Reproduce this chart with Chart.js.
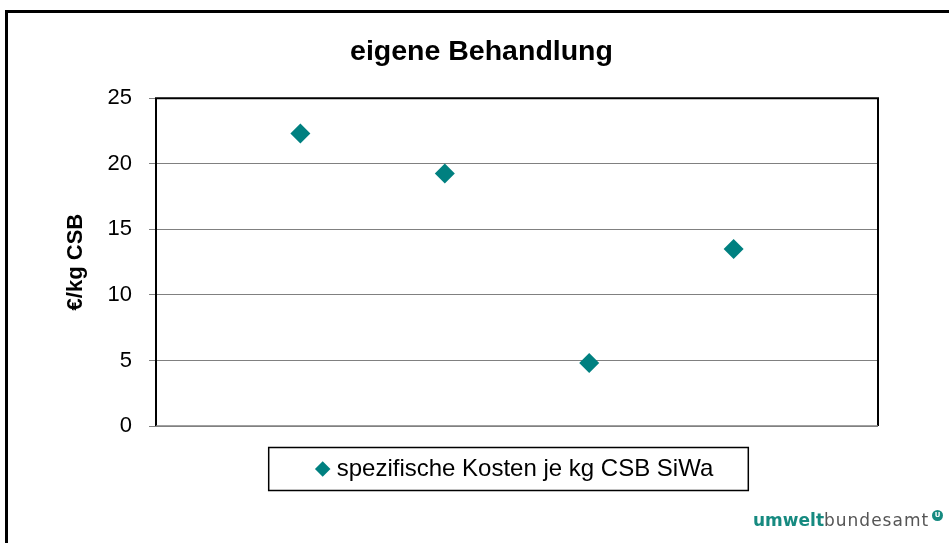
<!DOCTYPE html>
<html lang="de">
<head>
  <meta charset="UTF-8" />
  <title>eigene Behandlung</title>
  <script src="https://cdn.jsdelivr.net/npm/chart.js"></script>
  <style>
    html, body {
      margin: 0;
      padding: 0;
      width: 949px;
      height: 543px;
      overflow: hidden;
      background: #ffffff;
      font-family: 'Liberation Sans', Arial, sans-serif;
    }

    .frame {
      position: absolute;
      left: 5px;
      top: 10px;
      width: 980px;
      height: 580px;
      border: 3px solid #000;
    }

    #chart {
      position: absolute;
      left: 0;
      top: 0;
    }

    .logo {
      position: absolute;
      left: 753px;
      top: 510px;
      font-family: 'DejaVu Sans', sans-serif;
      font-size: 17px;
      line-height: 20px;
      white-space: nowrap;
    }

    .logo .a {
      color: #168a80;
      font-weight: bold;
    }

    .logo .b {
      color: #555;
      letter-spacing: 1px;
    }

    .logo .dot {
      position: absolute;
      left: 179px;
      top: 0px;
      width: 11px;
      height: 11px;
      border-radius: 50%;
      background: #168a80;
      color: #fff;
      font-size: 7px;
      font-weight: bold;
      line-height: 11px;
      text-align: center;
      letter-spacing: 0;
    }
  </style>
</head>
<body>
  <div class="frame"></div>
  <canvas id="chart" width="949" height="543"></canvas>
  <div class="logo"><span class="a">umwelt</span><span class="b">bundesamt</span><span class="dot">U</span></div>

  <script>
    const categories = [1, 2, 3, 4];
    const costs = [22.3, 19.25, 4.8, 13.5];
    const yTicks = [0, 5, 10, 15, 20, 25];
    const seriesName = 'spezifische Kosten je kg CSB SiWa';

    const teal = '#008080';
    const gridGray = '#808080';

    // plot area frame (black) with grey base line
    const plotFrame = {
      id: 'plotFrame',
      beforeDatasetsDraw(chart) {
        const { ctx, chartArea: a } = chart;
        ctx.save();
        ctx.strokeStyle = '#000';
        ctx.lineWidth = 2;
        ctx.beginPath();
        ctx.moveTo(a.left, a.bottom);
        ctx.lineTo(a.left, a.top);
        ctx.lineTo(a.right, a.top);
        ctx.lineTo(a.right, a.bottom);
        ctx.stroke();
        ctx.strokeStyle = gridGray;
        ctx.lineWidth = 1.5;
        ctx.beginPath();
        ctx.moveTo(a.left, a.bottom);
        ctx.lineTo(a.right, a.bottom);
        ctx.stroke();
        ctx.restore();
      }
    };

    // box round the legend, like the Excel one
    const legendBox = {
      id: 'legendBox',
      afterDraw(chart) {
        const hb = chart.legend.legendHitBoxes[0];
        if (!hb) return;
        const { ctx } = chart;
        const cy = hb.top + hb.height / 2;
        ctx.save();
        ctx.strokeStyle = '#000';
        ctx.lineWidth = 1.5;
        ctx.strokeRect(hb.left - 52, cy - 21.5, hb.width + 87, 43);
        ctx.restore();
      }
    };

    new Chart(document.getElementById('chart'), {
      type: 'scatter',
      data: {
        datasets: [{
          label: seriesName,
          data: categories.map((c, i) => ({ x: c, y: costs[i] })),
          pointStyle: 'rectRot',
          pointRadius: 10,
          pointHoverRadius: 10,
          backgroundColor: teal,
          borderColor: teal,
          borderWidth: 0,
          yAxisID: 'y'
        }]
      },
      options: {
        responsive: false,
        animation: false,
        devicePixelRatio: 1,
        layout: { padding: { left: 14, right: 0, top: 0, bottom: 52 } },
        plugins: {
          tooltip: { enabled: false },
          title: {
            display: true,
            text: 'eigene Behandlung',
            color: '#000',
            font: { family: "'Liberation Sans', Arial, sans-serif", size: 28.5, weight: 'bold' },
            padding: { top: 35, bottom: 29 }
          },
          legend: {
            position: 'bottom',
            fullSize: false,
            labels: {
              usePointStyle: true,
              boxWidth: 4,
              boxHeight: 11,
              padding: 31,
              color: '#000',
              font: { family: "'Liberation Sans', Arial, sans-serif", size: 24 }
            }
          }
        },
        scales: {
          x: {
            type: 'linear',
            min: 0,
            max: categories.length + 1,
            display: false
          },
          y: {
            position: 'left',
            min: 0,
            max: 25,
            afterBuildTicks(scale) {
              scale.ticks = yTicks.map(v => ({ value: v }));
            },
            afterFit(scale) {
              scale.width = 142;
            },
            ticks: {
              color: '#000',
              padding: 17,
              font: { family: "'Liberation Sans', Arial, sans-serif", size: 22 }
            },
            grid: {
              color: gridGray,
              lineWidth: 1,
              tickLength: 7
            },
            border: { display: false },
            title: {
              display: true,
              text: '€/kg CSB',
              color: '#000',
              padding: { top: 49, bottom: 0 },
              font: { family: "'Liberation Sans', Arial, sans-serif", size: 22, weight: 'bold' }
            }
          },
          y2: {
            position: 'right',
            display: true,
            ticks: { display: false },
            grid: { display: false },
            border: { display: false },
            afterFit(scale) {
              scale.width = 71;
            }
          }
        }
      },
      plugins: [plotFrame, legendBox]
    });
  </script>
</body>
</html>
